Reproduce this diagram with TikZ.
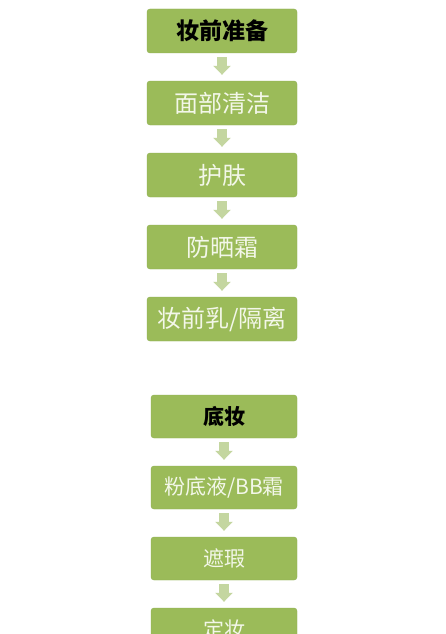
\documentclass[tikz,border=0pt]{standalone}
\usepackage{fontspec}
\newfontfamily\cjk{Noto Sans CJK SC}
\usetikzlibrary{arrows.meta}
\definecolor{boxgreen}{RGB}{155,187,89}
\definecolor{boxedge}{RGB}{143,175,82}
\definecolor{arrowgreen}{RGB}{196,214,160}
\definecolor{lighttext}{RGB}{243,247,233}

\begin{document}
\begin{tikzpicture}[x=1pt, y=-1pt,
    stepbox/.style={draw=boxedge, fill=boxgreen, rounded corners=3pt, inner sep=0pt,
        minimum width=150pt, minimum height=44pt, text=lighttext,
        font=\cjk\fontsize{24}{24}\selectfont},
    headbox/.style={stepbox, text=black, font=\cjk\bfseries\fontsize{23}{23}\selectfont},
    basebox/.style={minimum width=146pt, minimum height=43pt, font=\cjk\fontsize{21}{21}\selectfont},
    flow/.style={arrowgreen, line width=10pt, -{Triangle[width=17pt,length=9pt]},
        shorten <=4pt, shorten >=6pt}]
    \clip (0,0) rectangle (446,634);
    \fill[white] (0,0) rectangle (446,634);

    % Before make-up
    \node[headbox] (prep) at (222,31) {妆前准备};
    \node[stepbox] (clean) at (222,103) {面部清洁};
    \node[stepbox] (skin) at (222,175) {护肤};
    \node[stepbox] (sun) at (222,247) {防晒霜};
    \node[stepbox] (primer) at (222,319) {妆前乳/隔离};

    % Base make-up
    \node[headbox, basebox, font=\cjk\bfseries\fontsize{21}{21}\selectfont] (base) at (224,416.5) {底妆};
    \node[stepbox, basebox] (found) at (224,487.5) {粉底液/BB霜};
    \node[stepbox, basebox] (conceal) at (224,558.5) {遮瑕};
    \node[stepbox, basebox] (setting) at (224,629.5) {定妆};

    % Arrows
    \foreach \a/\b in {prep/clean, clean/skin, skin/sun, sun/primer,
                       base/found, found/conceal, conceal/setting} {
        \draw[flow] (\a) -- (\b);
    }
\end{tikzpicture}
\end{document}
